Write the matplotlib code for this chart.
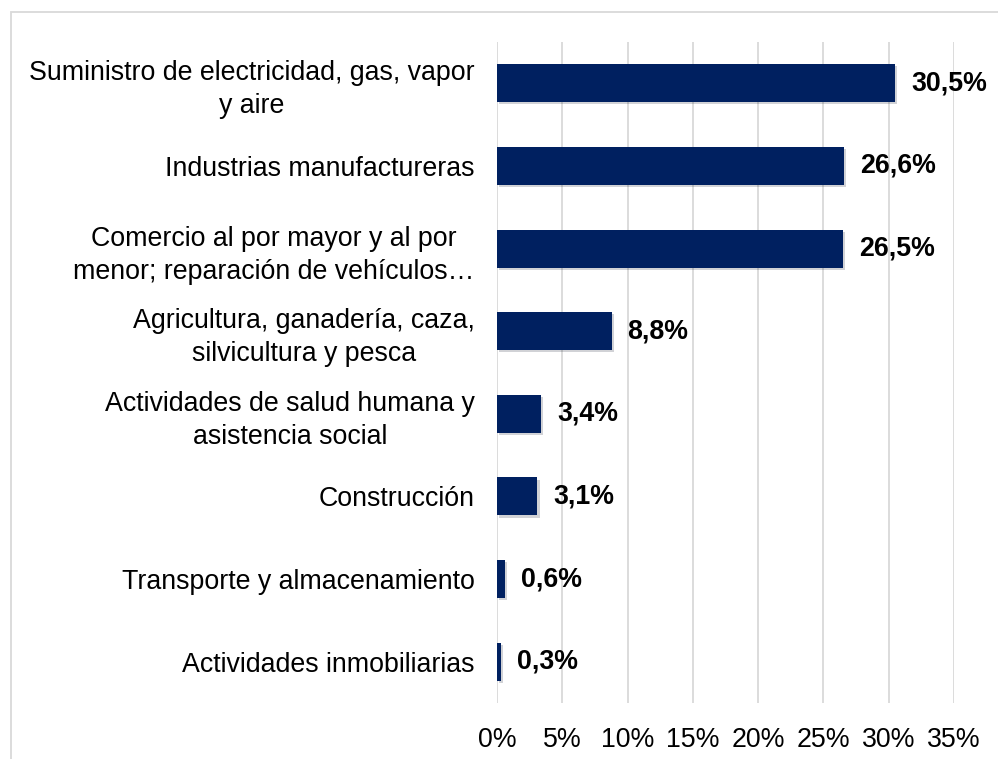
import matplotlib.pyplot as plt
import matplotlib.patheffects as pe
from matplotlib.patches import Rectangle

plt.rcParams['font.family'] = ['Liberation Sans', 'DejaVu Sans']

# Participación por actividad económica (%)
categorias = [
    "Suministro de electricidad, gas, vapor\ny aire",
    "Industrias manufactureras",
    "Comercio al por mayor y al por\nmenor; reparación de vehículos…",
    "Agricultura, ganadería, caza,\nsilvicultura y pesca",
    "Actividades de salud humana y\nasistencia social",
    "Construcción",
    "Transporte y almacenamiento",
    "Actividades inmobiliarias",
]
valores = [30.5, 26.6, 26.5, 8.8, 3.4, 3.1, 0.6, 0.3]
ticks_x = [0, 5, 10, 15, 20, 25, 30, 35]

W, H = 998, 759
fig = plt.figure(figsize=(W / 100, H / 100), dpi=100)
ax = fig.add_axes([497 / W, 1 - 703 / H, (954 - 497) / W, (703 - 42) / H])

pos = list(range(len(categorias)))
barras = ax.barh(pos, valores, height=0.46, color='#002060', zorder=3)
for b in barras:
    b.set_path_effects([pe.SimplePatchShadow(offset=(1.5, -1.5), alpha=0.18), pe.Normal()])

for p, v in zip(pos, valores):
    ax.text(v + 1.2, p, f"{v:.1f}%".replace('.', ','), va='center', ha='left',
            fontsize=19.3, fontweight='bold', color='black')

ax.set_xlim(0, 35)
ax.set_ylim(len(categorias) - 0.5, -0.5)
ax.set_xticks(ticks_x)
ax.set_xticklabels([f"{t}%" for t in ticks_x], fontsize=19.3)
ax.set_yticks(pos)
ax.set_yticklabels(categorias, fontsize=19.3, multialignment='center', linespacing=1.35)
ax.tick_params(axis='both', length=0, colors='black')
ax.tick_params(axis='y', pad=16)
ax.tick_params(axis='x', pad=17)
ax.grid(axis='x', color='#d9d9d9', linewidth=1.3, zorder=0)
for s in ax.spines.values():
    s.set_visible(False)

# marco del gráfico
fig.patches.append(Rectangle((11 / W, -0.1), 1.2, 1 - 12 / H + 0.1, transform=fig.transFigure,
                             fill=False, edgecolor='#d9d9d9', linewidth=1.3))

fig.savefig('out.png', dpi=100, facecolor='white')
